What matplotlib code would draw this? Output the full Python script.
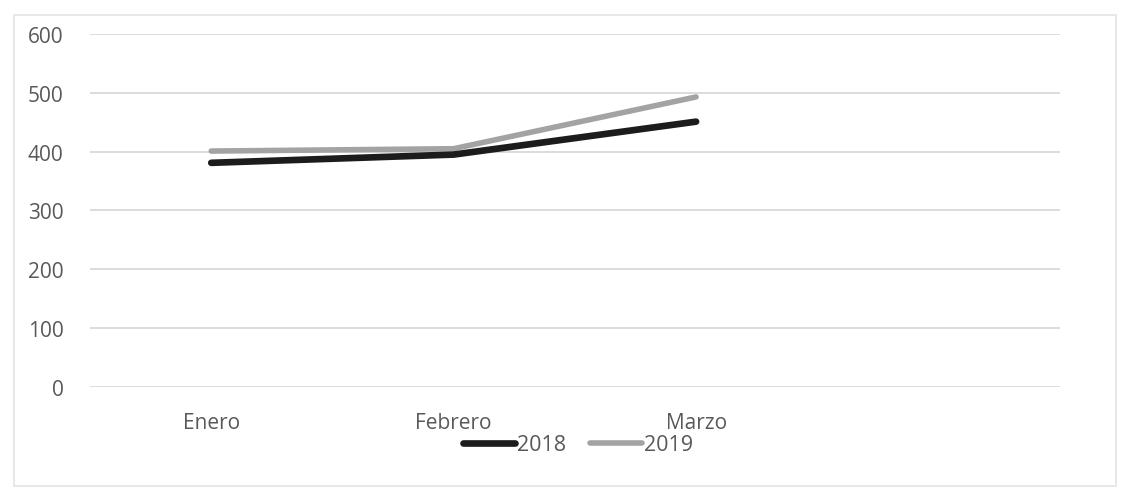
import matplotlib.pyplot as plt
from matplotlib.patches import Rectangle

plt.rcParams['font.family'] = ['Open Sans', 'DejaVu Sans']

# data
meses = ['Enero', 'Febrero', 'Marzo', '']
v2018 = [381, 395, 451]
v2019 = [401, 405, 493]
yticks = [0, 100, 200, 300, 400, 500, 600]

fig = plt.figure(figsize=(11.25, 4.89), dpi=100)
ax = fig.add_axes([0.08, 0.2065, 0.862, 0.722])

x = list(range(len(meses)))
ax.plot(x[:len(v2018)], v2018, color='#1c1c1c', lw=4.8, label='2018',
        solid_capstyle='round', zorder=3)
ax.plot(x[:len(v2019)], v2019, color='#a3a3a3', lw=4.0, label='2019',
        solid_capstyle='round', zorder=2)

ax.set_xlim(-0.5, len(meses) - 0.5)
ax.set_ylim(0, 600)
ax.set_yticks(yticks)
ax.set_xticks(x)
ax.set_xticklabels(meses)
ax.grid(axis='y', color='#d9d9d9', lw=1.3)
ax.set_axisbelow(True)
for s in ax.spines.values():
    s.set_visible(False)
ax.tick_params(axis='both', length=0, labelsize=15, colors='#595959')
ax.tick_params(axis='y', pad=19)
ax.tick_params(axis='x', pad=18)

leg = fig.legend(loc='center', bbox_to_anchor=(0.514, 0.088), ncol=2,
                 frameon=False, fontsize=15.5, handlelength=2.4,
                 handletextpad=0.1, columnspacing=1.1)
for t in leg.get_texts():
    t.set_color('#595959')

# outer chart border
fig.patches.append(Rectangle((0.012, 0.005), 0.98, 0.963, transform=fig.transFigure,
                             fill=False, edgecolor='#e4e4e4', lw=1.2))

fig.savefig('out.png', dpi=100, facecolor='white')
